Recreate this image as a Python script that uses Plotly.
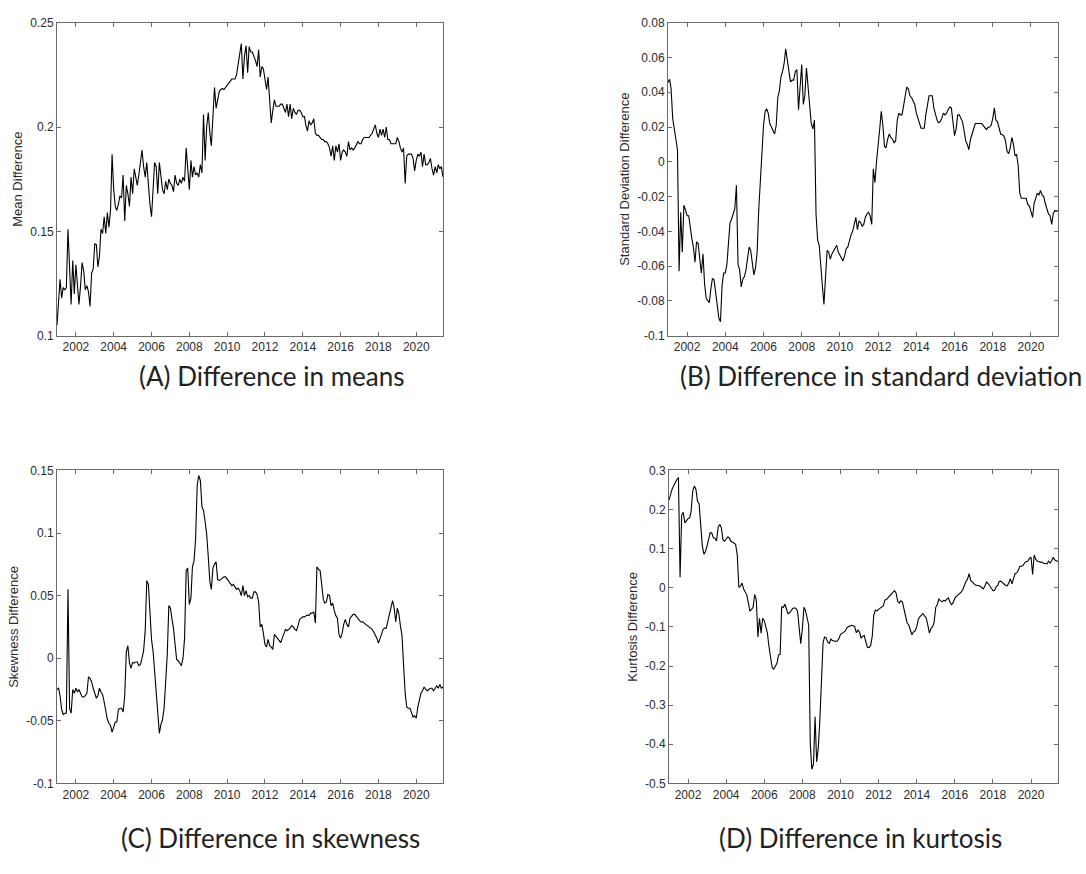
import pandas as pd
import plotly.graph_objects as go

# Monthly observations, January 2001 to June 2021
months = pd.date_range("2001-01-01", periods=246, freq="MS")

mean_diff = [
    0.105, 0.120, 0.127, 0.118, 0.123, 0.122, 0.123, 0.151, 0.131, 0.115,
    0.136, 0.120, 0.134, 0.124, 0.115, 0.124, 0.135, 0.131, 0.122, 0.124,
    0.121, 0.114, 0.130, 0.132, 0.144, 0.1436, 0.133, 0.138, 0.151, 0.149,
    0.157, 0.149, 0.159, 0.152, 0.160, 0.187, 0.170, 0.162, 0.160, 0.163,
    0.167, 0.166, 0.177, 0.155, 0.172, 0.168, 0.162, 0.176, 0.168, 0.180,
    0.175, 0.172, 0.177, 0.182, 0.189, 0.181, 0.176, 0.183, 0.170, 0.163,
    0.157, 0.170, 0.183, 0.181, 0.168, 0.183, 0.175, 0.170, 0.168, 0.174,
    0.170, 0.175, 0.173, 0.172, 0.169, 0.177, 0.173, 0.172, 0.175, 0.173,
    0.176, 0.174, 0.190, 0.178, 0.170, 0.184, 0.176, 0.181, 0.177, 0.178,
    0.176, 0.182, 0.178, 0.206, 0.184, 0.200, 0.207, 0.197, 0.191, 0.205,
    0.219, 0.209, 0.213, 0.217, 0.218, 0.2185, 0.218, 0.219, 0.220, 0.221,
    0.222, 0.223, 0.223, 0.223, 0.225, 0.230, 0.236, 0.240, 0.223, 0.234,
    0.239, 0.226, 0.2385, 0.236, 0.236, 0.234, 0.232, 0.229, 0.237, 0.224,
    0.229, 0.228, 0.222, 0.218, 0.224, 0.210, 0.202, 0.208, 0.213, 0.210,
    0.210, 0.210, 0.211, 0.211, 0.209, 0.207, 0.211, 0.205, 0.211, 0.204,
    0.209, 0.207, 0.206, 0.208, 0.208, 0.207, 0.205, 0.205, 0.201, 0.198,
    0.203, 0.201, 0.202, 0.204, 0.197, 0.196, 0.196, 0.195, 0.194, 0.194,
    0.193, 0.193, 0.192, 0.190, 0.186, 0.191, 0.184, 0.191, 0.188, 0.192,
    0.184, 0.188, 0.189, 0.188, 0.186, 0.193, 0.189, 0.190, 0.189, 0.190,
    0.192, 0.193, 0.192, 0.192, 0.194, 0.195, 0.195, 0.195, 0.195, 0.196,
    0.197, 0.199, 0.201, 0.197, 0.195, 0.199, 0.196, 0.199, 0.195, 0.200,
    0.194, 0.194, 0.192, 0.192, 0.192, 0.192, 0.195, 0.193, 0.190, 0.188,
    0.190, 0.173, 0.186, 0.187, 0.187, 0.187, 0.185, 0.179, 0.184, 0.187,
    0.186, 0.188, 0.181, 0.187, 0.182, 0.182, 0.183, 0.185, 0.180, 0.177,
    0.181, 0.178, 0.182, 0.180, 0.181, 0.176,
]

std_diff = [
    0.0456, 0.0475, 0.042, 0.025, 0.019, 0.013, 0.007, -0.063, -0.029, -0.052,
    -0.025, -0.0276, -0.031, -0.031, -0.039, -0.044, -0.049, -0.0577, -0.046, -0.047,
    -0.056, -0.064, -0.053, -0.070, -0.0785, -0.080, -0.081, -0.073, -0.067, -0.068,
    -0.075, -0.085, -0.090, -0.092, -0.071, -0.064, -0.064, -0.059, -0.047, -0.035,
    -0.033, -0.029, -0.027, -0.0135, -0.059, -0.062, -0.072, -0.0675, -0.066, -0.062,
    -0.054, -0.049, -0.051, -0.057, -0.065, -0.061, -0.052, -0.028, -0.011, 0.008,
    0.021, 0.029, 0.0305, 0.028, 0.022, 0.020, 0.018, 0.016, 0.021, 0.037,
    0.041, 0.049, 0.052, 0.057, 0.065, 0.058, 0.054, 0.046, 0.047, 0.047,
    0.052, 0.053, 0.030, 0.044, 0.056, 0.033, 0.038, 0.054, 0.043, 0.028,
    0.022, 0.019, 0.024, -0.030, -0.045, -0.048, -0.062, -0.072, -0.082, -0.065,
    -0.051, -0.052, -0.056, -0.053, -0.051, -0.050, -0.048, -0.052, -0.054, -0.055,
    -0.057, -0.054, -0.050, -0.049, -0.045, -0.042, -0.040, -0.036, -0.032, -0.039,
    -0.034, -0.035, -0.037, -0.036, -0.032, -0.030, -0.029, -0.031, -0.036, -0.004,
    -0.012, 0.000, 0.012, 0.019, 0.029, 0.021, 0.009, 0.008, 0.013, 0.016,
    0.014, 0.013, 0.011, 0.012, 0.024, 0.028, 0.027, 0.027, 0.032, 0.038,
    0.043, 0.042, 0.038, 0.037, 0.035, 0.033, 0.028, 0.025, 0.023, 0.0193,
    0.0193, 0.0193, 0.027, 0.034, 0.038, 0.038, 0.038, 0.031, 0.027, 0.024,
    0.0225, 0.023, 0.025, 0.028, 0.027, 0.028, 0.030, 0.0315, 0.031, 0.024,
    0.015, 0.019, 0.027, 0.027, 0.025, 0.023, 0.018, 0.012, 0.010, 0.007,
    0.013, 0.016, 0.020, 0.022, 0.022, 0.022, 0.022, 0.022, 0.021, 0.020,
    0.0185, 0.0197, 0.020, 0.021, 0.025, 0.031, 0.024, 0.023, 0.020, 0.016,
    0.0156, 0.015, 0.012, 0.006, 0.0047, 0.008, 0.014, 0.010, 0.0035, 0.0043,
    -0.002, -0.018, -0.021, -0.021, -0.021, -0.021, -0.0245, -0.0255, -0.0285, -0.032,
    -0.024, -0.020, -0.018, -0.019, -0.0165, -0.019, -0.020, -0.024, -0.0276, -0.030,
    -0.031, -0.036, -0.030, -0.028, -0.0285, -0.028,
]

skew_diff = [
    -0.025, -0.024, -0.030, -0.041, -0.045, -0.044, -0.044, 0.055, -0.040, -0.044,
    -0.025, -0.028, -0.024, -0.027, -0.025, -0.028, -0.031, -0.031, -0.030, -0.028,
    -0.015, -0.016, -0.019, -0.024, -0.028, -0.032, -0.030, -0.024, -0.027, -0.029,
    -0.035, -0.044, -0.049, -0.052, -0.054, -0.059, -0.055, -0.051, -0.051, -0.041,
    -0.040, -0.040, -0.043, -0.030, 0.005, 0.010, -0.004, -0.008, -0.0034, -0.004,
    -0.003, -0.003, -0.006, -0.005, 0.000, 0.006, 0.022, 0.062, 0.059, 0.035,
    0.015, 0.005, -0.009, -0.025, -0.042, -0.060, -0.053, -0.049, -0.040, -0.020,
    0.003, 0.042, 0.040, 0.031, 0.024, 0.011, -0.001, -0.002, -0.004, -0.006,
    0.000, 0.016, 0.070, 0.072, 0.043, 0.048, 0.073, 0.078, 0.095, 0.138,
    0.146, 0.142, 0.121, 0.118, 0.109, 0.099, 0.081, 0.061, 0.055, 0.072,
    0.075, 0.077, 0.063, 0.062, 0.063, 0.064, 0.065, 0.065, 0.063, 0.061,
    0.060, 0.058, 0.059, 0.057, 0.055, 0.056, 0.054, 0.050, 0.058, 0.050,
    0.054, 0.049, 0.050, 0.048, 0.048, 0.053, 0.053, 0.051, 0.045, 0.025,
    0.027, 0.020, 0.011, 0.009, 0.015, 0.010, 0.009, 0.007, 0.019, 0.0175,
    0.016, 0.014, 0.0125, 0.016, 0.019, 0.023, 0.022, 0.023, 0.024, 0.026,
    0.025, 0.023, 0.022, 0.026, 0.031, 0.032, 0.033, 0.033, 0.034, 0.0346,
    0.034, 0.036, 0.036, 0.037, 0.028, 0.073, 0.071, 0.070, 0.059, 0.047,
    0.044, 0.045, 0.051, 0.050, 0.042, 0.044, 0.038, 0.034, 0.032, 0.019,
    0.016, 0.020, 0.027, 0.031, 0.027, 0.025, 0.032, 0.034, 0.035, 0.035,
    0.033, 0.032, 0.030, 0.029, 0.029, 0.028, 0.027, 0.026, 0.025, 0.024,
    0.023, 0.021, 0.019, 0.016, 0.012, 0.015, 0.019, 0.023, 0.024, 0.024,
    0.030, 0.036, 0.042, 0.046, 0.040, 0.029, 0.040, 0.035, 0.026, 0.018,
    -0.005, -0.028, -0.039, -0.040, -0.040, -0.043, -0.047, -0.046, -0.048, -0.039,
    -0.033, -0.028, -0.026, -0.023, -0.025, -0.026, -0.025, -0.024, -0.024, -0.026,
    -0.024, -0.022, -0.024, -0.021, -0.024, -0.023,
]

kurt_diff = [
    0.224, 0.241, 0.252, 0.261, 0.271, 0.277, 0.282, 0.027, 0.186, 0.193,
    0.166, 0.172, 0.177, 0.179, 0.196, 0.247, 0.260, 0.252, 0.221, 0.215,
    0.155, 0.108, 0.086, 0.093, 0.107, 0.122, 0.141, 0.140, 0.128, 0.127,
    0.120, 0.155, 0.162, 0.154, 0.123, 0.119, 0.124, 0.130, 0.128, 0.119,
    0.117, 0.114, 0.111, 0.085, 0.001, 0.004, 0.012, -0.003, -0.010, -0.018,
    -0.038, -0.060, -0.055, -0.050, -0.017, -0.030, -0.126, -0.078, -0.116, -0.078,
    -0.084, -0.100, -0.115, -0.150, -0.183, -0.204, -0.208, -0.201, -0.193, -0.172,
    -0.170, -0.049, -0.050, -0.042, -0.052, -0.066, -0.064, -0.058, -0.053, -0.051,
    -0.053, -0.060, -0.115, -0.143, -0.105, -0.050, -0.058, -0.078, -0.095, -0.400,
    -0.464, -0.451, -0.330, -0.445, -0.410, -0.340, -0.225, -0.140, -0.126, -0.128,
    -0.139, -0.142, -0.131, -0.135, -0.136, -0.137, -0.136, -0.130, -0.119, -0.116,
    -0.115, -0.111, -0.103, -0.099, -0.098, -0.096, -0.097, -0.100, -0.115, -0.108,
    -0.113, -0.129, -0.124, -0.122, -0.138, -0.152, -0.153, -0.148, -0.125, -0.070,
    -0.057, -0.059, -0.055, -0.052, -0.049, -0.046, -0.031, -0.030, -0.025, -0.021,
    -0.017, -0.012, -0.007, -0.013, -0.034, -0.039, -0.033, -0.036, -0.054, -0.077,
    -0.090, -0.095, -0.109, -0.120, -0.113, -0.110, -0.100, -0.080, -0.074, -0.069,
    -0.066, -0.072, -0.077, -0.095, -0.116, -0.104, -0.100, -0.088, -0.050, -0.042,
    -0.029, -0.033, -0.036, -0.032, -0.034, -0.029, -0.026, -0.037, -0.043, -0.038,
    -0.027, -0.022, -0.019, -0.014, -0.011, -0.005, 0.008, 0.016, 0.022, 0.036,
    0.019, 0.015, 0.011, 0.007, 0.006, 0.006, 0.004, 0.001, -0.003, 0.005,
    0.015, 0.011, 0.005, -0.002, -0.007, -0.007, 0.002, 0.006, 0.016, 0.017,
    0.013, 0.009, 0.006, 0.005, 0.012, 0.023, 0.010, 0.024, 0.036, 0.038,
    0.044, 0.055, 0.055, 0.057, 0.064, 0.067, 0.068, 0.075, 0.078, 0.034,
    0.084, 0.073, 0.068, 0.067, 0.065, 0.066, 0.062, 0.062, 0.061, 0.068,
    0.063, 0.070, 0.078, 0.071, 0.070, 0.067,
]

year_ticks = ["2002", "2004", "2006", "2008", "2010", "2012", "2014", "2016", "2018", "2020"]

mean_ticks = ["0.1", "0.15", "0.2", "0.25"]
std_ticks = ["-0.1", "-0.08", "-0.06", "-0.04", "-0.02", "0", "0.02", "0.04", "0.06", "0.08"]
skew_ticks = ["-0.1", "-0.05", "0", "0.05", "0.1", "0.15"]
kurt_ticks = ["-0.5", "-0.4", "-0.3", "-0.2", "-0.1", "0", "0.1", "0.2", "0.3"]

panels = [
    dict(y=mean_diff, ticks=mean_ticks, title="Mean Difference",
         caption="(A) Difference in means"),
    dict(y=std_diff, ticks=std_ticks, title="Standard Deviation Difference",
         caption="(B) Difference in standard deviation"),
    dict(y=skew_diff, ticks=skew_ticks, title="Skewness Difference",
         caption="(C) Difference in skewness"),
    dict(y=kurt_diff, ticks=kurt_ticks, title="Kurtosis Difference",
         caption="(D) Difference in kurtosis"),
]

W, H = 1086, 874
# plot boxes in pixels: left, right, top, bottom
boxes = [
    (57, 443, 16, 334),
    (668, 1058, 16, 334),
    (57, 443, 471, 789),
    (669, 1058, 471, 789),
]
# caption anchor points in pixels
captions_pos = [
    (271, 375, "center"),
    (678, 375, "left"),
    (270, 845, "center"),
    (860, 845, "center"),
]

AX_COLOR = "#6b6b6b"
TXT_COLOR = "#2b2b2b"
sans = "Liberation Sans, Arial, sans-serif"
tick_font = dict(family=sans, size=12, color=TXT_COLOR)

fig = go.Figure()
layout = dict(
    width=W, height=H,
    margin=dict(l=0, r=0, t=0, b=0),
    paper_bgcolor="white", plot_bgcolor="white",
    showlegend=False,
    annotations=[],
)

year_vals = [pd.Timestamp(f"{y}-01-01") for y in year_ticks]

for i, p in enumerate(panels):
    n = "" if i == 0 else str(i + 1)
    xa, ya = "x" + n, "y" + n
    fig.add_trace(go.Scatter(
        x=months, y=p["y"], mode="lines",
        line=dict(color="black", width=1.1),
        xaxis=xa, yaxis=ya, hoverinfo="x+y",
    ))
    l, r, t, b = boxes[i]
    tv = [float(s) for s in p["ticks"]]
    common = dict(
        showline=True, linecolor=AX_COLOR, linewidth=1,
        mirror="ticks", ticks="inside", ticklen=4, tickwidth=1,
        tickcolor=AX_COLOR, showgrid=False, zeroline=False,
        tickfont=tick_font,
    )
    layout["xaxis" + n] = dict(
        domain=[l / W, r / W], anchor=ya,
        type="date", range=[months[0], months[-1]],
        tickvals=year_vals, ticktext=year_ticks,
        **common,
    )
    layout["yaxis" + n] = dict(
        domain=[1 - b / H, 1 - t / H], anchor=xa,
        range=[tv[0], tv[-1]],
        tickvals=tv, ticktext=p["ticks"],
        title=dict(text=p["title"], font=dict(family=sans, size=13, color=TXT_COLOR),
                   standoff=4),
        **common,
    )
    cx, cy, anchor = captions_pos[i]
    layout["annotations"].append(dict(
        text=p["caption"], xref="paper", yref="paper",
        x=cx / W, y=1 - cy / H, xanchor=anchor, yanchor="middle",
        showarrow=False,
        font=dict(family="Lato, Open Sans, sans-serif", size=26, color="#222222"),
    ))

fig.update_layout(**layout)
fig.write_html("out.html")
